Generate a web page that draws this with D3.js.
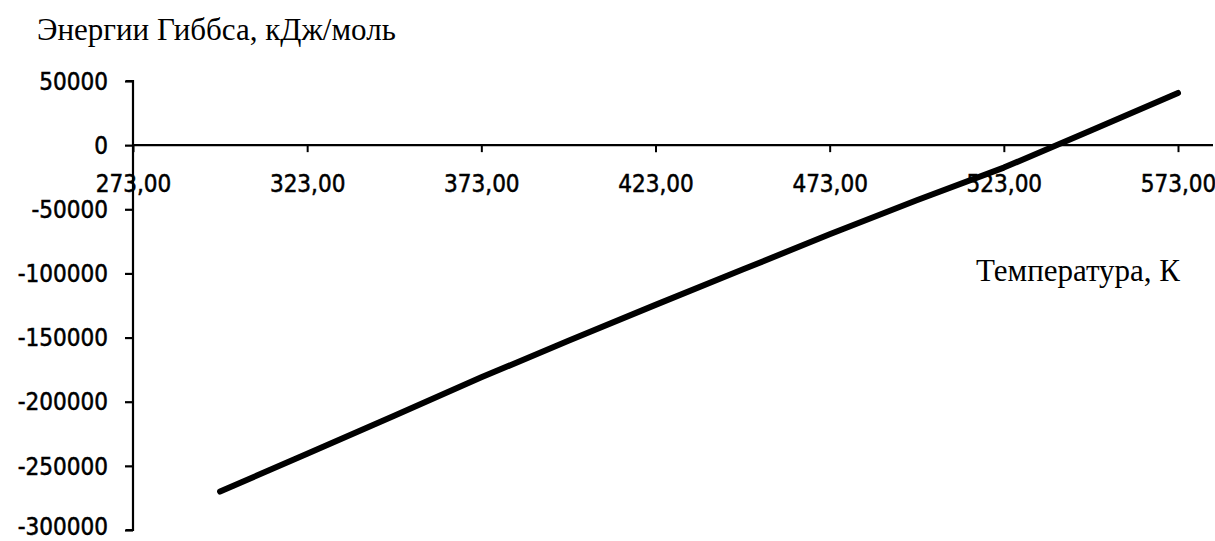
<!DOCTYPE html>
<html>
<head>
<meta charset="utf-8">
<script src="https://cdn.jsdelivr.net/npm/d3@7"></script>
<style>
  html, body { margin: 0; padding: 0; background: #fff; }
  svg { display: block; }
</style>
</head>
<body>
<svg id="chart" width="1215" height="541"></svg>
<script>
// ---- data ----
const temperatures = [298, 323, 348, 373, 398, 423, 448, 473, 498, 523, 548, 573];
const gibbsEnergy  = [-270000, -240500, -211000, -181000, -152500, -124500, -97000, -69500, -43000, -17500, 11500, 40700];
const xTickValues  = [273, 323, 373, 423, 473, 523, 573];
const yTickValues  = [50000, 0, -50000, -100000, -150000, -200000, -250000, -300000];
const yTitle = "Энергии Гиббса, кДж/моль";
const xTitle = "Температура, К";

const svg = d3.select("#chart");

const x = d3.scaleLinear().domain([273, 573]).range([133, 1178]);
const y = d3.scaleLinear().domain([-300000, 50000]).range([530, 81]);

const tickFont = "'DejaVu Sans Condensed', 'DejaVu Sans', sans-serif";

// y axis
const yAxis = svg.append("g")
  .attr("transform", `translate(${x(273)},0)`)
  .call(d3.axisLeft(y).tickValues(yTickValues).tickSize(8).tickPadding(17)
        .tickFormat(d => String(d)));
yAxis.select(".domain").attr("d", `M-7,${y(50000)}H0V${y(-300000)}H-7`)
  .attr("stroke", "#000").attr("stroke-width", 2.2).attr("fill", "none");
yAxis.selectAll(".tick line").attr("stroke", "#000").attr("stroke-width", 2.2);
yAxis.selectAll(".tick text")
  .attr("font-family", tickFont).attr("font-size", 24)
  .attr("fill", "#000").attr("stroke", "#000").attr("stroke-width", 0.5)
  .attr("dy", d => d === -300000 ? "0.2em" : "0.34em");

// x axis at y = 0
const xAxis = svg.append("g")
  .attr("transform", `translate(0,${y(0)})`)
  .call(d3.axisBottom(x).tickValues(xTickValues).tickSize(7).tickPadding(28)
        .tickFormat(d => d.toFixed(2).replace(".", ",")));
xAxis.select(".domain").attr("d", `M${x(273)},0H1213`)
  .attr("stroke", "#000").attr("stroke-width", 2.2).attr("fill", "none");
xAxis.selectAll(".tick line").attr("stroke", "#000").attr("stroke-width", 2);
xAxis.selectAll(".tick text")
  .attr("font-family", tickFont).attr("font-size", 24)
  .attr("fill", "#000").attr("stroke", "#000").attr("stroke-width", 0.5)
  .attr("dy", "0.5em");

// data line
const line = d3.line().x((d, i) => x(temperatures[i])).y(d => y(d));
svg.append("path")
  .datum(gibbsEnergy)
  .attr("d", line)
  .attr("fill", "none")
  .attr("stroke", "#000")
  .attr("stroke-width", 6)
  .attr("stroke-linecap", "round")
  .attr("stroke-linejoin", "round");

// titles
svg.append("text")
  .attr("x", 37).attr("y", 40)
  .attr("font-family", "'Liberation Serif', 'Times New Roman', serif")
  .attr("font-size", 31)
  .attr("fill", "#000")
  .text(yTitle);

svg.append("text")
  .attr("x", 976).attr("y", 281)
  .attr("font-family", "'Liberation Serif', 'Times New Roman', serif")
  .attr("font-size", 31)
  .attr("fill", "#000")
  .text(xTitle);
</script>
</body>
</html>
